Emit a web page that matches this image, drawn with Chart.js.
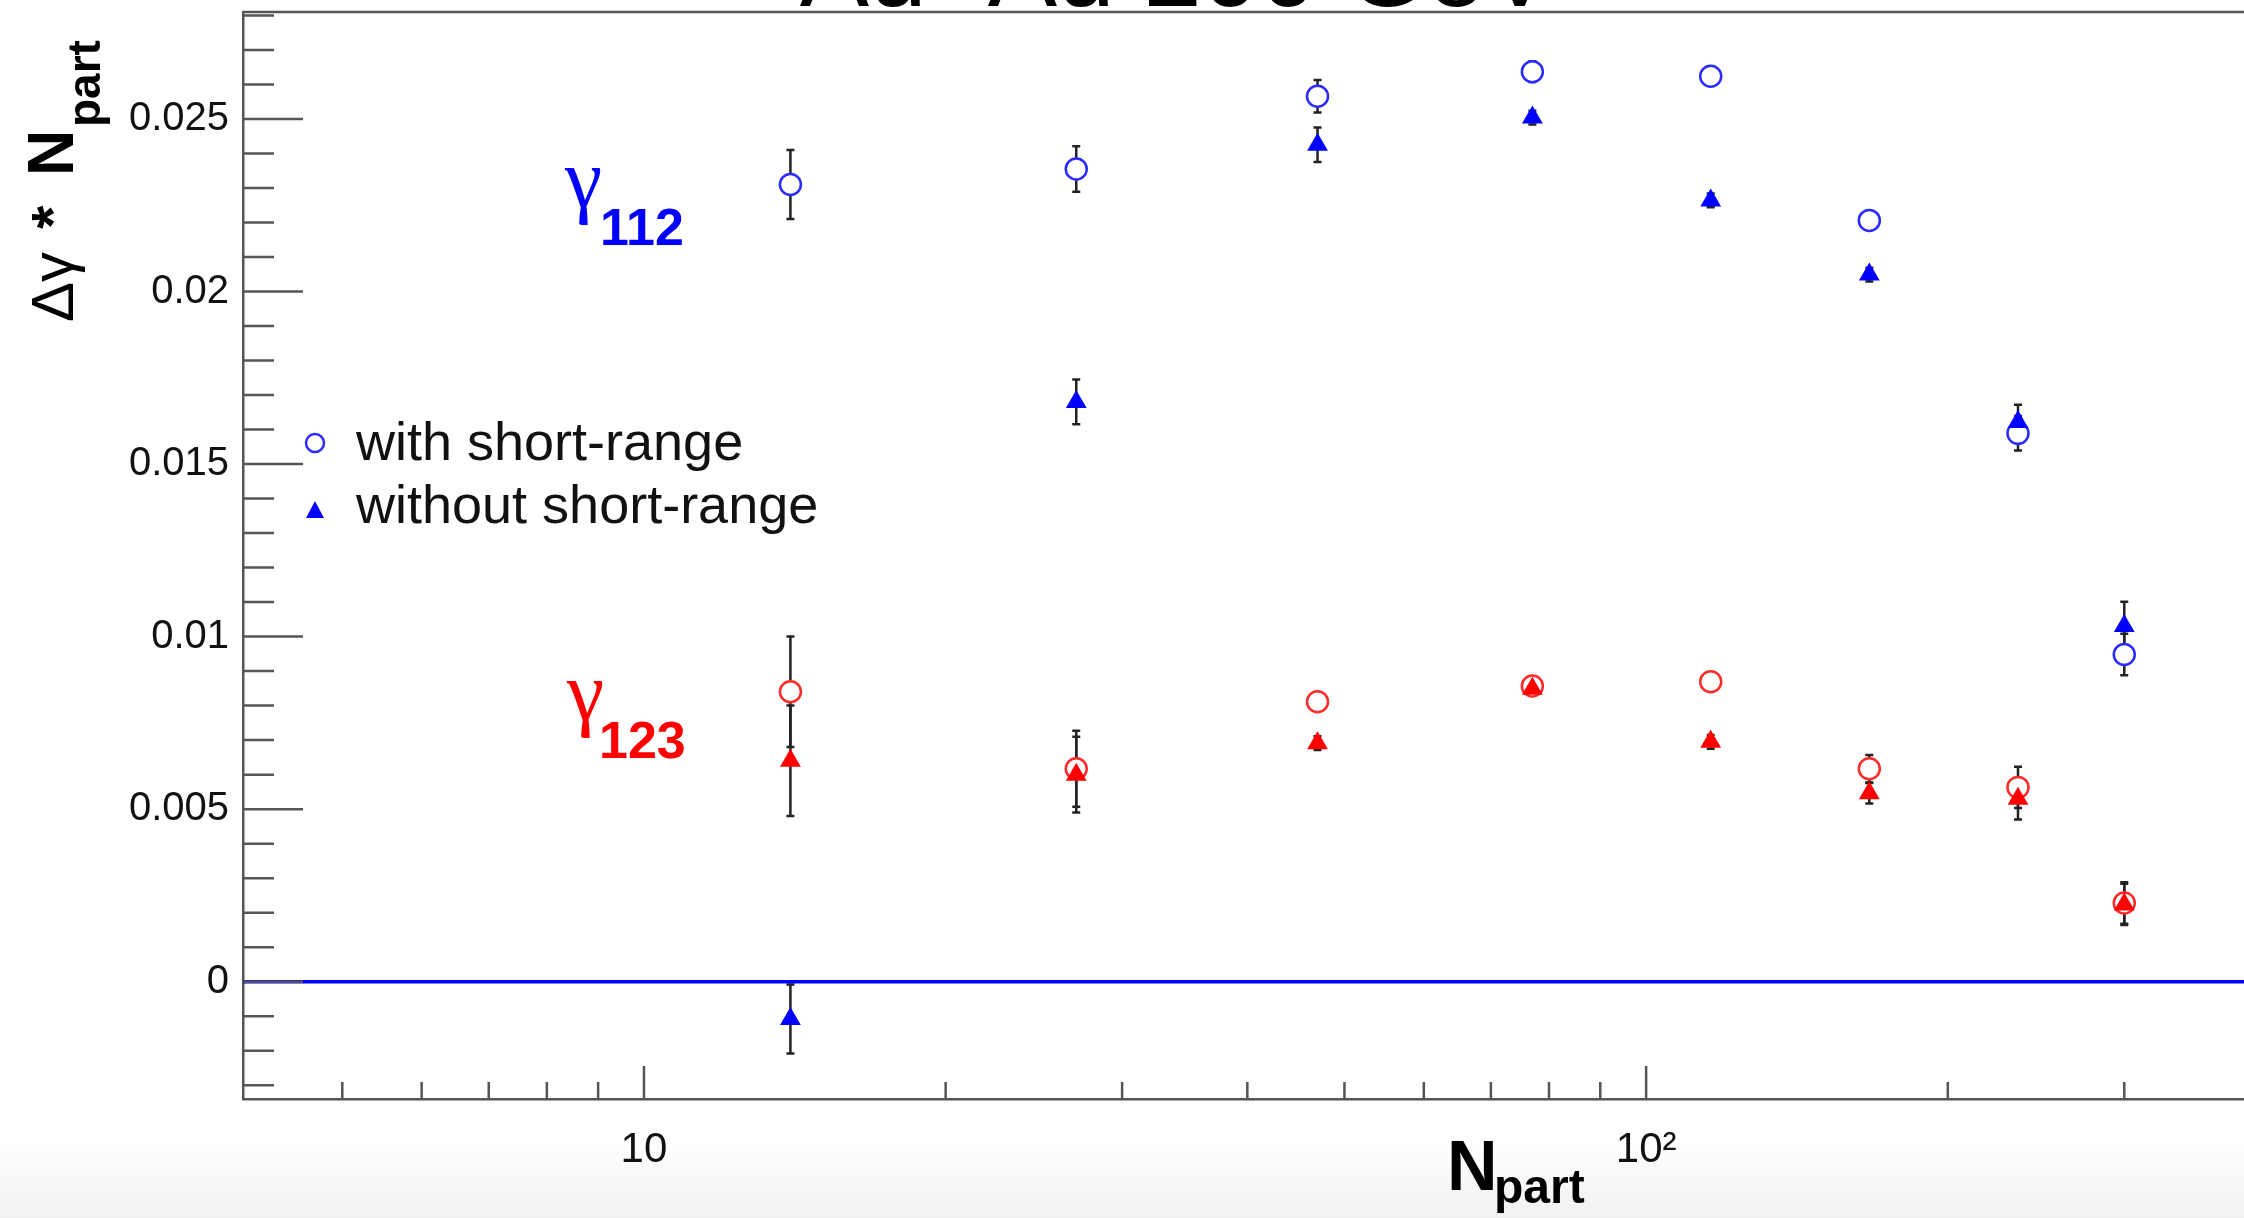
<!DOCTYPE html>
<html>
<head>
<meta charset="utf-8">
<script src="https://cdn.jsdelivr.net/npm/chart.js@4.4.0/dist/chart.umd.min.js"></script>
<style>
html, body { margin: 0; padding: 0; overflow: hidden; }
body { width: 2244px; height: 1218px; background: linear-gradient(to bottom, #ffffff 0px, #ffffff 1140px, #f1f1f1 1218px); }
#wrap { position: relative; width: 2244px; height: 1218px; }
</style>
</head>
<body>
<div id="wrap"><canvas id="gammaChart"></canvas></div>
<script>
// centrality bins, Au+Au
const npart = [14, 27, 47, 77, 116, 167, 235, 300];

// gamma_112 * Npart
const g112With = [0.0231, 0.02355, 0.02566, 0.02637, 0.02624, 0.02206, 0.01589, 0.00948];
const g112WithErr = [0.0010, 0.00066, 0.00047, 0.0003, 0.0002, 0.0002, 0.0005, 0.0006];
const g112Without = [-0.00108, 0.0168, 0.02425, 0.02504, 0.02264, 0.02049, 0.01622, 0.01031];
const g112WithoutErr = [0.0010, 0.00065, 0.0005, 0.0002, 0.0002, 0.0002, 0.0005, 0.0007];

// gamma_123 * Npart
const g123With = [0.0084, 0.00617, 0.00811, 0.00857, 0.00869, 0.00617, 0.00563, 0.00228];
const g123WithErr = [0.0016, 0.0011, 0.0002, 0.0002, 0.0002, 0.0004, 0.0006, 0.0006];
const g123Without = [0.0064, 0.0060, 0.00691, 0.00849, 0.00695, 0.00546, 0.0053, 0.00224];
const g123WithoutErr = [0.0016, 0.0011, 0.0002, 0.0002, 0.0002, 0.0003, 0.0006, 0.0006];

const xTickValues = [10, 100];
const xTickLabels = ['10', '10²'];
const yTickValues = [0, 0.005, 0.01, 0.015, 0.02, 0.025];
const yTickLabels = ['0', '0.005', '0.01', '0.015', '0.02', '0.025'];
const xMinorTicks = [5, 6, 7, 8, 9, 20, 30, 40, 50, 60, 70, 80, 90, 200, 300];

const BLUE = '#0000ff';
const RED = '#ff0000';
const FRAME = '#555555';

function pts(vals) {
  return vals.map((v, i) => ({ x: npart[i], y: v }));
}

const errorSets = [
  [g112With, g112WithErr],
  [g112Without, g112WithoutErr],
  [g123With, g123WithErr],
  [g123Without, g123WithoutErr]
];

// vertical error bars with small caps, under the markers
const errorBars = {
  id: 'errorBars',
  beforeDatasetsDraw(chart) {
    const { ctx, chartArea, scales: { x, y } } = chart;
    ctx.save();
    ctx.beginPath();
    ctx.rect(chartArea.left, chartArea.top, chartArea.right - chartArea.left, chartArea.bottom - chartArea.top);
    ctx.clip();
    ctx.strokeStyle = '#222';
    ctx.lineWidth = 2.5;
    errorSets.forEach(([vals, errs]) => {
      vals.forEach((v, i) => {
        const px = x.getPixelForValue(npart[i]);
        const lo = y.getPixelForValue(v - errs[i]);
        const hi = y.getPixelForValue(v + errs[i]);
        ctx.beginPath();
        ctx.moveTo(px, lo); ctx.lineTo(px, hi);
        ctx.moveTo(px - 4, lo); ctx.lineTo(px + 4, lo);
        ctx.moveTo(px - 4, hi); ctx.lineTo(px + 4, hi);
        ctx.stroke();
      });
    });
    ctx.restore();
  }
};

// inward ticks, top frame line and all the text around the plot
const decorations = {
  id: 'decorations',
  afterDraw(chart) {
    const { ctx, chartArea, scales: { x, y } } = chart;
    ctx.save();
    ctx.strokeStyle = FRAME;
    ctx.lineWidth = 2.5;

    // top frame
    ctx.beginPath();
    ctx.moveTo(chartArea.left, chartArea.top);
    ctx.lineTo(chartArea.right, chartArea.top);
    ctx.stroke();

    // y ticks every 0.001, long ones on the labelled values
    ctx.beginPath();
    for (let k = -3; k <= 28; k++) {
      const py = y.getPixelForValue(k / 1000);
      const len = k % 5 === 0 ? 60 : 31;
      ctx.moveTo(chartArea.left, py);
      ctx.lineTo(chartArea.left + len, py);
    }
    // x ticks on the log axis
    xMinorTicks.forEach(v => {
      const px = x.getPixelForValue(v);
      ctx.moveTo(px, chartArea.bottom);
      ctx.lineTo(px, chartArea.bottom - 17);
    });
    xTickValues.forEach(v => {
      const px = x.getPixelForValue(v);
      ctx.moveTo(px, chartArea.bottom);
      ctx.lineTo(px, chartArea.bottom - 33);
    });
    ctx.stroke();

    ctx.fillStyle = '#000';
    ctx.textBaseline = 'alphabetic';

    // run title, mostly above the canvas
    ctx.textAlign = 'center';
    ctx.font = 'normal 104px "Liberation Sans"';
    ctx.fillText('Au+Au 200 GeV', 1177, 6);
    ctx.textAlign = 'left';

    // x axis title
    ctx.font = 'bold 70px "Liberation Sans"';
    ctx.fillText('N', 1447, 1190);
    ctx.font = 'bold 48px "Liberation Sans"';
    ctx.fillText('part', 1494, 1203);

    // y axis title, rotated
    ctx.save();
    ctx.translate(73, 322);
    ctx.rotate(-Math.PI / 2);
    ctx.font = 'normal 60px "Liberation Sans"';
    ctx.fillText('Δγ', 0, 0);
    ctx.font = 'bold 60px "Liberation Sans"';
    ctx.fillText('*', 93, 0);
    ctx.font = 'bold 64px "Liberation Sans"';
    ctx.fillText('N', 146, 0);
    ctx.font = 'bold 46px "Liberation Sans"';
    ctx.fillText('part', 195, 27);
    ctx.restore();

    // series labels
    ctx.fillStyle = BLUE;
    ctx.font = 'normal 84px "Liberation Serif"';
    ctx.fillText('γ', 565, 207);
    ctx.font = 'bold 52px "Liberation Sans"';
    ctx.fillText('112', 600, 245);
    ctx.fillStyle = RED;
    ctx.font = 'normal 84px "Liberation Serif"';
    ctx.fillText('γ', 567, 720);
    ctx.font = 'bold 52px "Liberation Sans"';
    ctx.fillText('123', 599, 758);

    // legend
    ctx.strokeStyle = '#2b2bff';
    ctx.lineWidth = 2.5;
    ctx.beginPath();
    ctx.arc(315, 443, 9, 0, Math.PI * 2);
    ctx.stroke();
    ctx.fillStyle = BLUE;
    ctx.beginPath();
    ctx.moveTo(315, 501);
    ctx.lineTo(324, 518);
    ctx.lineTo(306, 518);
    ctx.closePath();
    ctx.fill();
    ctx.fillStyle = '#111';
    ctx.font = 'normal 54px "Liberation Sans"';
    ctx.fillText('with short-range', 356, 460);
    ctx.fillText('without short-range', 356, 523);
    ctx.restore();
  }
};

function circleSet(label, vals, color) {
  return {
    label: label,
    data: pts(vals),
    pointStyle: 'circle',
    pointRadius: 10.5,
    pointBorderWidth: 2.5,
    borderColor: color,
    backgroundColor: '#ffffff',
    showLine: false,
    order: 1
  };
}

function triangleSet(label, vals, color) {
  return {
    label: label,
    data: pts(vals),
    pointStyle: 'triangle',
    pointRadius: 12,
    pointBorderWidth: 0,
    borderColor: color,
    backgroundColor: color,
    showLine: false,
    order: 0
  };
}

new Chart(document.getElementById('gammaChart'), {
  type: 'scatter',
  data: {
    datasets: [
      triangleSet('γ112 without short-range', g112Without, BLUE),
      triangleSet('γ123 without short-range', g123Without, RED),
      circleSet('γ112 with short-range', g112With, '#2b2bff'),
      circleSet('γ123 with short-range', g123With, '#ff2b2b'),
      {
        label: 'zero',
        data: [{ x: 3.98, y: 0 }, { x: 395, y: 0 }],
        showLine: true,
        borderColor: BLUE,
        borderWidth: 3.5,
        pointRadius: 0,
        order: 2
      }
    ]
  },
  options: {
    responsive: true,
    maintainAspectRatio: false,
    animation: false,
    layout: { autoPadding: false, padding: { top: 12, right: 0, left: 0, bottom: 0 } },
    plugins: {
      legend: { display: false },
      tooltip: { enabled: false }
    },
    scales: {
      x: {
        type: 'logarithmic',
        min: 3.98,
        max: 395,
        afterBuildTicks: s => { s.ticks = xTickValues.map(v => ({ value: v })); },
        afterFit: s => { s.height = 119; s.paddingLeft = 0; s.paddingRight = 0; },
        grid: { display: false, drawTicks: false },
        border: { display: true, color: FRAME, width: 2.5 },
        ticks: {
          autoSkip: false,
          maxRotation: 0,
          padding: 26,
          color: '#111',
          font: { family: 'Liberation Sans', size: 42 },
          callback: (v, i) => xTickLabels[i]
        }
      },
      y: {
        type: 'linear',
        min: -0.0034,
        max: 0.0281,
        afterBuildTicks: s => { s.ticks = yTickValues.map(v => ({ value: v })); },
        afterFit: s => { s.width = 243; s.paddingTop = 0; s.paddingBottom = 0; },
        grid: { display: false, drawTicks: false },
        border: { display: true, color: FRAME, width: 2.5 },
        ticks: {
          padding: 14,
          color: '#111',
          font: { family: 'Liberation Sans', size: 40 },
          callback: (v, i) => yTickLabels[i]
        }
      }
    }
  },
  plugins: [errorBars, decorations]
});
</script>
</body>
</html>
